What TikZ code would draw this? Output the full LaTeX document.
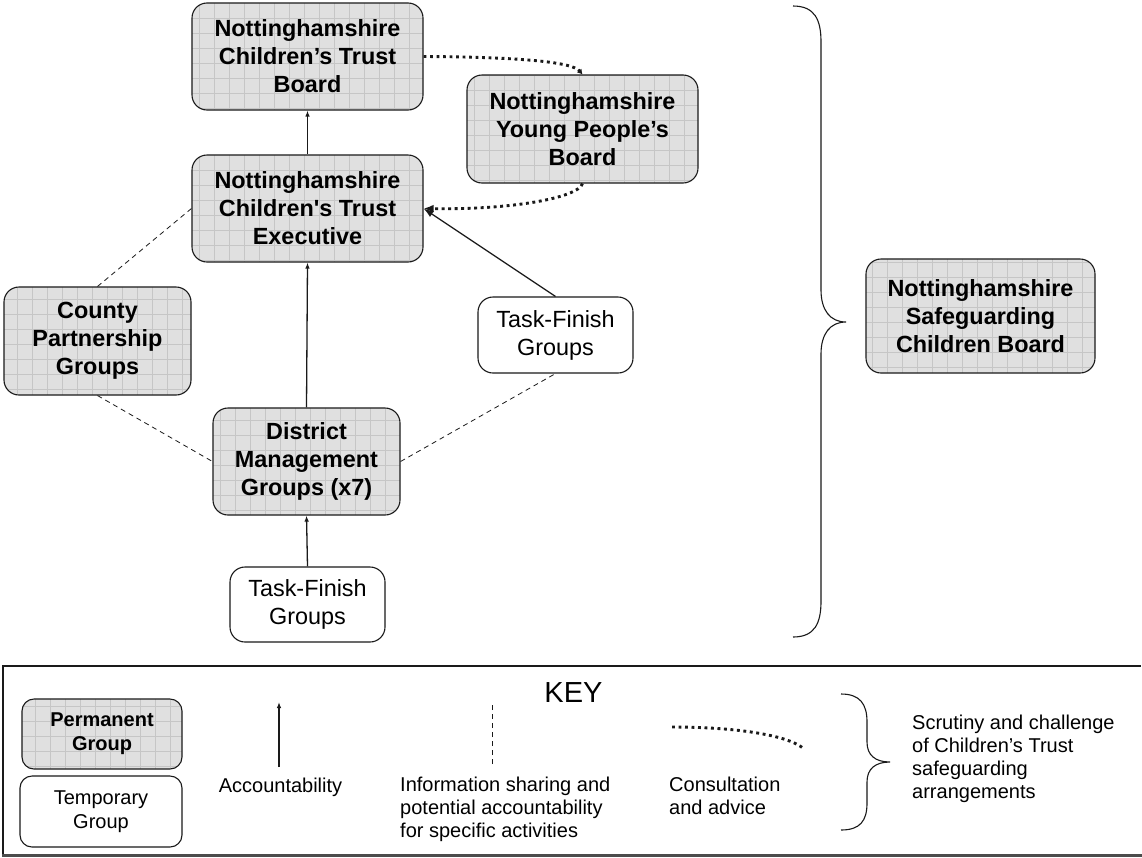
\documentclass[tikz,border=0pt]{standalone}
\usepackage{fontspec}
\setmainfont{Liberation Sans}[Ligatures=TeXOff]
\usetikzlibrary{arrows.meta}
\definecolor{permfill}{HTML}{E0E0E0}
\definecolor{gridc}{HTML}{C6C6C6}
\definecolor{linec}{HTML}{1A1A1A}
\begin{document}
\begin{tikzpicture}[x=1pt,y=-1pt,
  permbox/.style={draw=linec, line width=1.1pt, rounded corners=15pt, fill=permfill,
    path picture={\draw[gridc, line width=0.6pt, step=15pt] (path picture bounding box.south west) grid (path picture bounding box.north east);},
    font=\bfseries\fontsize{23.4}{28}\selectfont, align=center, inner sep=0pt},
  tempbox/.style={draw=linec, line width=1.1pt, rounded corners=15pt, fill=white,
    font=\fontsize{23.4}{28}\selectfont, align=center, inner sep=0pt},
  acc/.style={draw=linec, line width=1.3pt, -{Latex[length=6pt,width=4.5pt]}},
  accbig/.style={draw=linec, line width=1.3pt, -{Latex[length=10pt,width=7pt]}},
  infol/.style={draw=linec, line width=0.8pt, dash pattern=on 5pt off 4pt},
  consl/.style={draw=linec, line width=2.9pt, dash pattern=on 2.9pt off 3.6pt},
  bracel/.style={draw=linec, line width=1.1pt},
  keytext/.style={font=\fontsize{20}{23}\selectfont, inner sep=0pt}
]
\useasboundingbox (0,0) rectangle (1142,857);
\fill[white] (0,0) rectangle (1142,857);

% ---- main diagram nodes
\node[permbox, minimum width=231pt, minimum height=107pt] (ctb) at (307.5,56.5) {Nottinghamshire\\Children’s Trust\\Board};
\node[permbox, minimum width=231pt, minimum height=107pt] (exec) at (307.5,208.5) {Nottinghamshire\\Children's Trust\\Executive};
\node[permbox, minimum width=231pt, minimum height=108pt] (yp) at (582.5,129) {Nottinghamshire\\Young People’s\\Board};
\node[permbox, minimum width=187pt, minimum height=108pt] (county) at (97.5,341) {County\\Partnership\\Groups};
\node[permbox, minimum width=187pt, minimum height=107pt] (dist) at (306.5,461.5) {District\\Management\\Groups (x7)};
\node[tempbox, minimum width=155pt, minimum height=76pt] (tf1) at (555.5,335) {Task-Finish\\Groups};
\node[tempbox, minimum width=155pt, minimum height=75pt] (tf2) at (307.5,604.5) {Task-Finish\\Groups};
\node[permbox, minimum width=229pt, minimum height=114pt] (nscb) at (980.5,316) {Nottinghamshire\\Safeguarding\\Children Board};

% ---- connectors
\draw[acc] (exec.north) -- (ctb.south);
\draw[acc] (dist.north) -- (exec.south);
\draw[acc] (tf2.north) -- (dist.south);
\draw[accbig] (tf1.north) -- (exec.east);
\draw[infol] (county.north) -- (exec.west);
\draw[infol] (county.south) -- (dist.west);
\draw[infol] (dist.east) -- (tf1.south);
\draw[consl, -{Latex[length=5pt,width=6pt]}] (ctb.east) .. controls (520,57) and (572,62) .. (yp.north);
\draw[consl, -{Latex[length=10pt,width=8pt]}] (yp.south) .. controls (578,198) and (510,210) .. (exec.east);

% ---- big brace
\draw[bracel] (793,6) .. controls (815,6) and (821,20) .. (821,42) -- (821,290)
  .. controls (821,310) and (830,322) .. (846,322)
  .. controls (830,322) and (821,334) .. (821,354) -- (821,601)
  .. controls (821,623) and (815,637) .. (793,637);

% ---- key frame
\draw[draw=linec, line width=1.2pt] (3,854) -- (3,666) -- (1141,666);
\draw[draw=black!70, line width=3pt] (2,855) -- (1142,855);

\node[font=\fontsize{29}{33}\selectfont, anchor=base, inner sep=0pt] (keyt) at (573.5,702) {KEY};

\node[permbox, rounded corners=12pt, font=\bfseries\fontsize{20}{24}\selectfont, minimum width=160pt, minimum height=70pt] (kperm) at (102,734) {Permanent\\Group};
\node[tempbox, rounded corners=12pt, font=\fontsize{20}{24}\selectfont, minimum width=162pt, minimum height=71pt] (ktemp) at (101,811.5) {Temporary\\Group};

\coordinate (acca) at (279,767);
\coordinate (accb) at (279,702);
\draw[acc] (acca) -- (accb);
\node[keytext, anchor=base] (acct) at (280.5,792) {Accountability};

\coordinate (infa) at (492,764);
\coordinate (infb) at (492,702);
\draw[infol] (infa) -- (infb);
\node[keytext, anchor=north west, align=left] (inft) at (400,776.5) {Information sharing and\\potential accountability\\for specific activities};

\coordinate (cona) at (672,727);
\coordinate (conb) at (804,749);
\draw[consl] (cona) .. controls (740,727) and (790,736) .. (conb);
\node[keytext, anchor=north west, align=left] (cont) at (669,776.5) {Consultation\\and advice};

\draw[bracel] (841,694) .. controls (860,694) and (867,704) .. (867,722) -- (867,742)
  .. controls (867,755) and (875,762) .. (890,762)
  .. controls (875,762) and (867,769) .. (867,782) -- (867,803)
  .. controls (867,821) and (860,830) .. (841,830);
\node[keytext, anchor=north west, align=left] (scrt) at (912,714.4) {Scrutiny and challenge\\of Children’s Trust\\safeguarding\\arrangements};
\end{tikzpicture}
\end{document}
